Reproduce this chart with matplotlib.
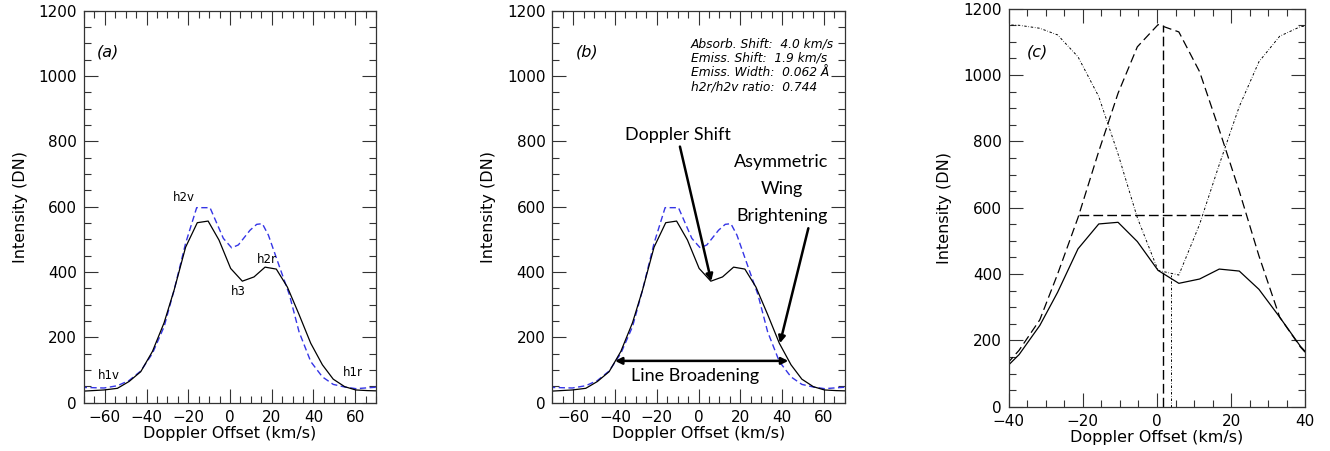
import matplotlib

matplotlib.use("Agg")
import matplotlib.pyplot as plt
from matplotlib.ticker import MultipleLocator

# Observed profile (black) on the spectral grid, km/s and DN
vel = [-71.6, -65.9, -60.4, -54.0, -48.4, -42.8, -37.2, -31.6, -26.8, -21.3,
       -15.7, -10.5, -5.3, 0.3, 5.9, 11.5, 16.8, 22.2, 27.5, 33.1,
       38.7, 44.3, 49.5, 55.0, 60.3, 65.9, 71.6]
obs = [35, 37, 39, 44, 65, 95, 157, 245, 345, 476,
       551, 556, 498, 411, 372, 385, 415, 409, 354, 270,
       182, 116, 72, 49, 39, 37, 36]

# Reference profile (blue dashed)
ref_vel = [-71.6, -60.4, -54.0, -48.4, -42.8, -37.2, -31.6, -26.8, -21.3, -16.0,
           -9.6, -3.2, 0.8, 4.0, 9.6, 12.8, 15.5, 18.4, 24.0, 28.5,
           33.1, 38.7, 44.3, 49.5, 55.0, 60.3, 71.6]
ref = [47, 45, 52, 68, 97, 151, 233, 345, 488, 597,
       597, 503, 474, 483, 528, 546, 548, 513, 411, 330,
       217, 126, 79, 56, 48, 43, 48]

# Panel (c): emission and inverted absorption fits on the same grid
fit_vel = [-42.8, -37.2, -31.6, -26.8, -21.3, -15.7, -10.5, -5.3, 0.3, 5.9,
           11.5, 16.8, 22.2, 27.5, 33.1, 38.7, 44.3]
emiss = [100, 170, 262, 400, 570, 770, 945, 1085, 1152, 1130,
         1010, 835, 650, 455, 270, 180, 110]
absorb = [1152, 1150, 1141, 1121, 1055, 935, 762, 570, 411, 397,
          550, 730, 905, 1040, 1117, 1146, 1152]
emiss_center, emiss_peak = 1.6, 1152
absorb_center, absorb_min = 3.8, 397
fwhm_x = [-20.9, 23.7]
fwhm_y = 577

peak_labels = ["h1v", "h2v", "h3", "h2r", "h1r"]
peak_pos = [(-58, 82), (-22, 627), (4, 340), (17.6, 439), (58.9, 92)]

stats_text = ("Absorb. Shift:  4.0 km/s\nEmiss. Shift:  1.9 km/s\n"
              "Emiss. Width:  0.062 \u00c5\nh2r/h2v ratio:  0.744")

ANNOT_FONT = "Lato"
SPINE = "#333333"


def style_axis(ax, xlim, xmajor):
    ax.set_xlim(*xlim)
    ax.set_ylim(0, 1200)
    ax.xaxis.set_major_locator(MultipleLocator(xmajor))
    ax.xaxis.set_minor_locator(MultipleLocator(5))
    ax.yaxis.set_major_locator(MultipleLocator(200))
    ax.yaxis.set_minor_locator(MultipleLocator(50))
    ax.tick_params(which="both", direction="in", top=True, right=True,
                   color=SPINE, width=0.8, labelsize=11)
    ax.tick_params(which="major", length=10, pad=5)
    ax.tick_params(which="minor", length=5)
    for spine in ax.spines.values():
        spine.set_color(SPINE)
        spine.set_linewidth(0.9)
    ax.set_xlabel("Doppler Offset (km/s)", fontsize=11.5, labelpad=1)
    ax.set_ylabel("Intensity (DN)", fontsize=11.5, labelpad=8)


def draw_profiles(ax):
    ax.plot(ref_vel, ref, color="#3535e6", lw=1.0, dashes=(4.5, 2.5))
    ax.plot(vel, obs, color="black", lw=0.9)


fig = plt.figure(figsize=(13.3, 4.51), dpi=100)
ax_a = fig.add_axes([0.0632, 0.1071, 0.2195, 0.8692])
ax_b = fig.add_axes([0.4153, 0.1071, 0.2198, 0.8692])
ax_c = fig.add_axes([0.7584, 0.0982, 0.2230, 0.8825])

# (a) observed vs reference with feature labels
draw_profiles(ax_a)
style_axis(ax_a, (-70, 70), 20)
ax_a.text(-64, 1073, "(a)", style="italic", fontsize=11.5, va="center")
for label, (x, y) in zip(peak_labels, peak_pos):
    ax_a.text(x, y, label, fontsize=8.5, ha="center", va="center")

# (b) same profiles with the derived quantities
draw_profiles(ax_b)
style_axis(ax_b, (-70, 70), 20)
ax_b.text(-59, 1073, "(b)", style="italic", fontsize=11.5, va="center")
ax_b.text(-3.7, 1118, stats_text, style="italic", fontsize=8.8, va="top",
          linespacing=1.12)
arrow = dict(arrowstyle="-|>", color="black", lw=1.8, mutation_scale=10,
             shrinkA=0, shrinkB=0)
ax_b.annotate("", xy=(6.1, 372), xytext=(-8.9, 784), arrowprops=arrow)
ax_b.text(-9.8, 819, "Doppler Shift", family=ANNOT_FONT, fontsize=13,
          ha="center", va="center")
ax_b.annotate("", xy=(39.0, 182), xytext=(52.6, 534), arrowprops=arrow)
for word, y in zip(["Asymmetric", "Wing", "Brightening"], [738, 654, 571]):
    ax_b.text(39.8, y, word, family=ANNOT_FONT, fontsize=13,
              ha="center", va="center")
ax_b.annotate("", xy=(43.0, 128), xytext=(-40.0, 128),
              arrowprops=dict(arrowstyle="<|-|>", color="black", lw=1.8,
                              mutation_scale=10, shrinkA=0, shrinkB=0))
ax_b.text(-1.7, 82, "Line Broadening", family=ANNOT_FONT, fontsize=13,
          ha="center", va="center")

# (c) fit components
ax_c.plot(vel, obs, color="black", lw=0.9)
ax_c.plot(fit_vel, emiss, color="black", lw=0.9, dashes=(7, 3.5))
ax_c.plot(fit_vel, absorb, color="black", lw=0.7, dashes=(2.5, 1.8, 0.6, 1.8))
ax_c.plot([emiss_center, emiss_center], [0, emiss_peak], color="black",
          lw=1.0, dashes=(7, 3))
ax_c.plot([absorb_center, absorb_center], [0, absorb_min], color="black",
          lw=0.7, dashes=(2.5, 1.8, 0.6, 1.8))
ax_c.plot(fwhm_x, [fwhm_y, fwhm_y], color="black", lw=1.0, dashes=(7, 3))
style_axis(ax_c, (-40, 40), 20)
ax_c.text(-35.1, 1070, "(c)", style="italic", fontsize=11.5, va="center")

fig.savefig("out.png", dpi=100)
